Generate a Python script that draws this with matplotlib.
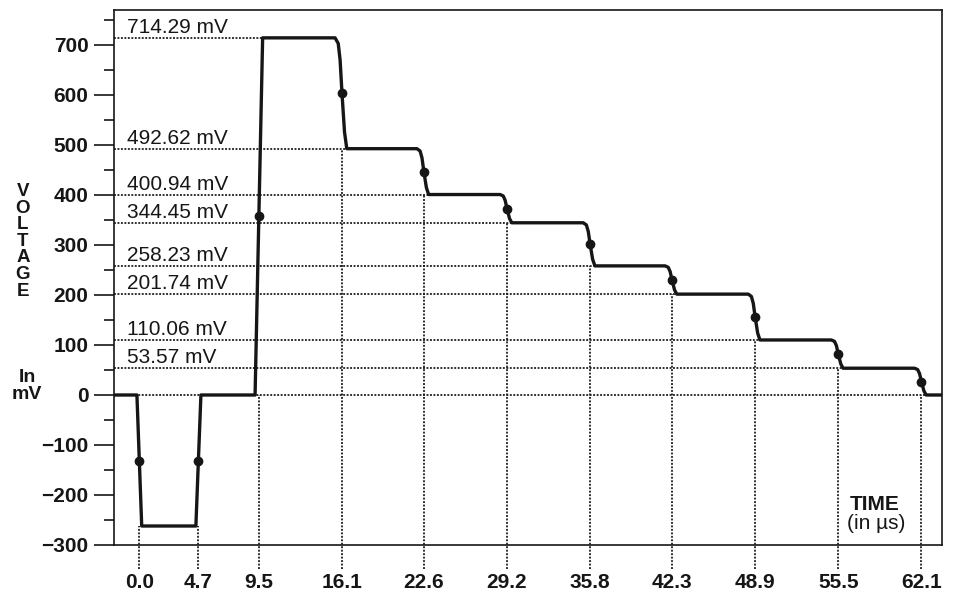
import matplotlib
matplotlib.use("Agg")
import matplotlib.pyplot as plt
from matplotlib.ticker import MultipleLocator

plt.rcParams['font.family'] = ['Liberation Sans', 'DejaVu Sans']

# ---------------- data ----------------
edge_times = [0.0, 4.7, 9.5, 16.1, 22.6, 29.2, 35.8, 42.3, 48.9, 55.5, 62.1]
edge_labels = ['0.0', '4.7', '9.5', '16.1', '22.6', '29.2', '35.8', '42.3',
               '48.9', '55.5', '62.1']
# voltage of the marked point on each edge (mid-way between the two levels)
edge_mid_mv = [-131.0, -131.0, 357.1, 603.5, 446.8, 372.7, 301.3, 230.0,
               155.9, 81.8, 26.8]
# lower level reached on each edge (top of the dotted guide)
edge_low_mv = [-262.0, -262.0, 0.0, 492.62, 400.94, 344.45, 258.23, 201.74,
               110.06, 53.57, 0.0]

levels_mv = [714.29, 492.62, 400.94, 344.45, 258.23, 201.74, 110.06, 53.57]
level_labels = ['714.29 mV', '492.62 mV', '400.94 mV', '344.45 mV',
                '258.23 mV', '201.74 mV', '110.06 mV', '53.57 mV']

# waveform trace (time in µs, voltage in mV)
wave_t = [-2.1, -0.18, 0.2, 4.5, 4.9, 9.2, 9.8,
          15.55, 15.8, 15.95, 16.1, 16.3, 16.48,
          22.05, 22.3, 22.45, 22.6, 22.8, 22.98,
          28.65, 28.9, 29.05, 29.2, 29.4, 29.58,
          35.25, 35.5, 35.65, 35.8, 36.0, 36.18,
          41.75, 42.0, 42.15, 42.3, 42.5, 42.68,
          48.35, 48.6, 48.75, 48.9, 49.1, 49.28,
          54.95, 55.2, 55.35, 55.5, 55.7, 55.88,
          61.55, 61.8, 61.95, 62.1, 62.3, 62.48, 64.0]
wave_mv = [0.0, 0.0, -262.0, -262.0, 0.0, 0.0, 714.29,
           714.29, 703.2, 670.0, 603.5, 525.9, 492.62,
           492.62, 488.0, 474.3, 446.8, 414.7, 400.94,
           400.94, 398.1, 389.6, 372.7, 352.9, 344.45,
           344.45, 340.1, 327.2, 301.3, 271.2, 258.23,
           258.23, 255.4, 246.9, 230.0, 210.2, 201.74,
           201.74, 197.2, 183.4, 155.9, 123.8, 110.06,
           110.06, 107.2, 98.8, 81.8, 62.0, 53.57,
           53.57, 50.9, 42.9, 26.8, 8.0, 0.0, 0.0]

# ---------------- figure ----------------
W, H = 954, 598
fig = plt.figure(figsize=(W / 100, H / 100), dpi=100)
ax = fig.add_axes([114 / W, 53 / H, (941.7 - 114) / W, 535 / H])
ax.set_xlim(-2.0, 63.71)
ax.set_ylim(-300, 770)

ink = '#161616'
dot_style = dict(color=ink, lw=1.25, linestyle=(0, (1.1, 0.9)))

# horizontal dotted guides: from the left edge to where the trace settles
for L in levels_mv + [0.0]:
    end = None
    for i in range(1, len(wave_t)):
        if wave_mv[i] == L and wave_mv[i - 1] != L:
            end = wave_t[i]
    ax.plot([ax.get_xlim()[0], end], [L, L], zorder=1, **dot_style)

# vertical dotted guides, running below the axis as tick marks
ax.vlines(edge_times, -348, edge_low_mv, clip_on=False, zorder=1, **dot_style)

# waveform and marked points
ax.plot(wave_t, wave_mv, color=ink, lw=2.4, solid_joinstyle='round',
        solid_capstyle='butt', zorder=3)
ax.plot(edge_times, edge_mid_mv, 'o', color=ink, ms=6.0, zorder=4)

# level labels
for L, lab in zip(levels_mv, level_labels):
    ax.annotate(lab, xy=(0, L), xycoords=('axes fraction', 'data'),
                xytext=(9.5, 3.5), textcoords='offset points',
                ha='left', va='baseline', fontsize=15, color=ink)

# axes styling
for s in ax.spines.values():
    s.set_color(ink)
    s.set_linewidth(1.2)

ax.set_xticks(edge_times, edge_labels)
ax.tick_params(axis='x', length=0, pad=20.5, labelsize=15, labelcolor=ink)
for t in ax.get_xticklabels():
    t.set_fontweight('bold')

ax.yaxis.set_major_locator(MultipleLocator(100))
ax.yaxis.set_minor_locator(MultipleLocator(50))
ax.tick_params(axis='y', which='major', length=14.4, width=1.2, pad=4,
               labelsize=15, labelcolor=ink, color=ink)
ax.tick_params(axis='y', which='minor', length=7.2, width=1.2, color=ink)
for t in ax.get_yticklabels():
    t.set_fontweight('bold')

# axis titles
fig.text(23 / W, 1 - 183 / H, 'V\nO\nL\nT\nA\nG\nE', ha='center', va='top',
         fontsize=13.5, fontweight='bold', linespacing=0.97, color=ink)
fig.text(27 / W, 1 - 369 / H, 'In\nmV', ha='center', va='top',
         fontsize=14, fontweight='bold', linespacing=1.0, color=ink)
fig.text(875 / W, 1 - 510 / H, 'TIME', ha='center', va='baseline',
         fontsize=15, fontweight='bold', color=ink)
fig.text(876 / W, 1 - 529 / H, '(in µs)', ha='center', va='baseline',
         fontsize=15, color=ink)

fig.savefig('out.png', dpi=100, facecolor='white')
